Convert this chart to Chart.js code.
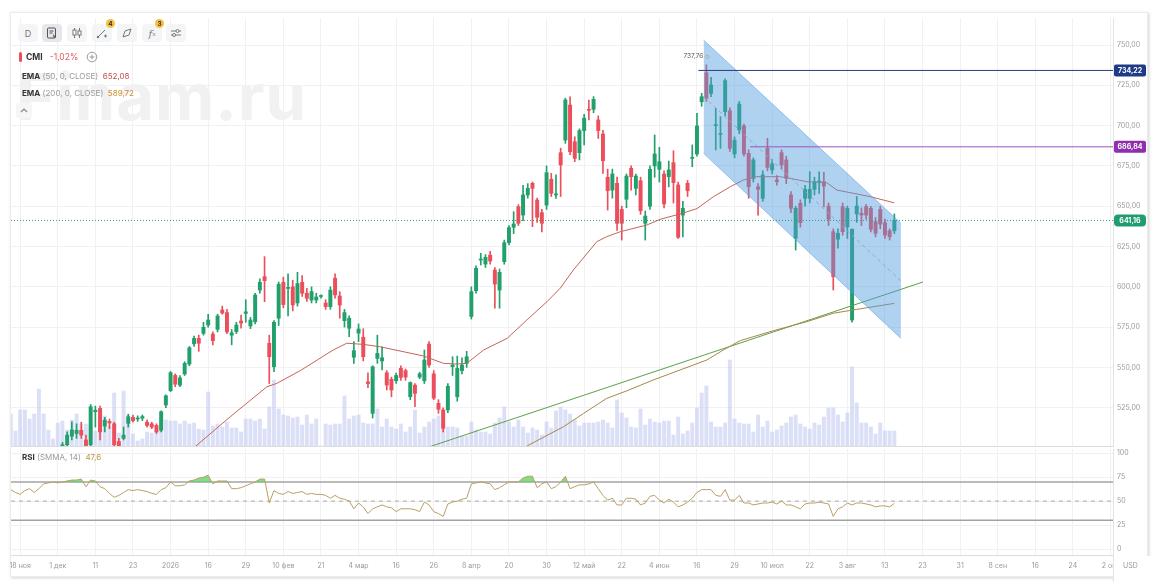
<!DOCTYPE html>
<html lang="ru">
<head>
<meta charset="utf-8">
<title>CMI</title>
<script src="https://cdn.jsdelivr.net/npm/chart.js@4.4.1/dist/chart.umd.min.js"></script>
<style>
  html, body { margin: 0; padding: 0; background: #fff; }
  body { width: 1156px; height: 587px; position: relative; overflow: hidden; font-family: Inter, "Noto Sans", sans-serif; }
  #frame { position: absolute; left: 10px; top: 12px; width: 1138px; height: 565px; border: 1px solid #ececec; box-sizing: border-box; box-shadow: 1px 1px 3px rgba(0,0,0,0.18); }
  #watermark { position: absolute; left: 17px; top: 57px; font: 700 65px Inter, "Noto Sans", sans-serif; color: #f1f1f1; letter-spacing: 1px; }
  #price, #rsi { position: absolute; left: 0; }
  #price { top: 0; }
  #rsi { top: 448px; }
  .btn { position: absolute; top: 24px; width: 20px; height: 18px; border-radius: 4px; background: #f4f5f7; display: flex; align-items: center; justify-content: center; font-size: 9px; color: #777; }
  .badge { position: absolute; width: 9px; height: 9px; border-radius: 50%; background: #f5c242; color: #333; font-size: 6.5px; font-weight: 700; display: flex; align-items: center; justify-content: center; }
  .leg { position: absolute; left: 22px; font-size: 8px; color: #9a9a9a; white-space: nowrap; }
  .leg b { color: #333; font-weight: 700; }
</style>
</head>
<body>
<div id="frame"></div>
<div id="watermark">Finam.ru</div>
<canvas id="price" width="1156" height="448"></canvas>
<canvas id="rsi" width="1156" height="134"></canvas>

<!-- toolbar -->
<div class="btn" style="left:18px">D</div>
<div class="btn" style="left:42px;background:#e6e7ea">
  <svg width="12" height="12" viewBox="0 0 12 12"><rect x="1.5" y="1" width="8" height="10" rx="1" fill="none" stroke="#555"/><path d="M3.5 4h4M3.5 6h3" stroke="#555"/><path d="M7 7l3 3-1.5 0.3L7.7 11.5z" fill="#555"/></svg>
</div>
<div class="btn" style="left:67px">
  <svg width="12" height="12" viewBox="0 0 12 12"><path d="M3.5 1v10M8.5 1v10" stroke="#777"/><rect x="2" y="3" width="3" height="5" fill="#fff" stroke="#777"/><rect x="7" y="4" width="3" height="4" fill="#fff" stroke="#777"/></svg>
</div>
<div class="btn" style="left:92px">
  <svg width="12" height="12" viewBox="0 0 12 12"><path d="M2 10L9 3" stroke="#777"/><circle cx="2" cy="10" r="1.2" fill="#777"/><path d="M8 9h3M9.5 7.5v3" stroke="#777"/></svg>
</div>
<div class="badge" style="left:106px;top:19px">4</div>
<div class="btn" style="left:117px">
  <svg width="12" height="12" viewBox="0 0 12 12"><path d="M2 10L4 4L10 2L8 8Z" fill="none" stroke="#777"/></svg>
</div>
<div class="btn" style="left:142px;font-style:italic;font-family:'DejaVu Serif',serif;font-size:10px">f<sub style="font-size:6px">x</sub></div>
<div class="badge" style="left:155px;top:19px">3</div>
<div class="btn" style="left:166px">
  <svg width="12" height="12" viewBox="0 0 12 12"><path d="M1 4h10M1 8h10" stroke="#777"/><circle cx="7.5" cy="4" r="1.5" fill="#fff" stroke="#777"/><circle cx="4" cy="8" r="1.5" fill="#fff" stroke="#777"/></svg>
</div>

<!-- legend -->
<div style="position:absolute;left:19px;top:52px;width:3px;height:10px;border-radius:2px;background:#ec4f5b"></div>
<div class="leg" style="left:26px;top:52px;font-size:8.5px"><b>CMI</b>&nbsp;&nbsp;&nbsp;<span style="color:#e45a5a">-1,02%</span></div>
<svg style="position:absolute;left:86px;top:51px" width="12" height="12" viewBox="0 0 12 12"><circle cx="6" cy="6" r="4.8" fill="none" stroke="#999"/><path d="M6 3.6v4.8M3.6 6h4.8" stroke="#999"/></svg>
<div class="leg" style="top:71px"><b>EMA</b> (50, 0, CLOSE)&nbsp; <span style="color:#c0504d">652,08</span></div>
<div class="leg" style="top:88px"><b>EMA</b> (200, 0, CLOSE)&nbsp; <span style="color:#d08e2e">589,72</span></div>
<div style="position:absolute;left:16px;top:103px;width:16px;height:15px;border-radius:3px;background:#f6f6f7"></div>
<svg style="position:absolute;left:19px;top:106px" width="10" height="8" viewBox="0 0 10 8"><path d="M2 6L5 3L8 6" fill="none" stroke="#888" stroke-width="1.2"/></svg>
<div class="leg" style="top:452px"><b>RSI</b> (SMMA, 14)&nbsp; <span style="color:#b9993f">47,6</span></div>

<script>
// ---- data (first bar sits two sessions before "18 ноя") ----
var firstBar = -2;
var labelStep = 8;
var dateLabels = ['18 ноя', '1 дек', '11', '23', '2026', '16', '29', '10 фев', '21', '4 мар', '16', '26', '8 апр', '20', '30',
  '12 май', '22', '4 июн', '16', '29', '10 июл', '22', '3 авг', '13', '23', '31', '8 сен', '16', '24', '2 окт'];
var priceTicks = [525, 550, 575, 600, 625, 650, 675, 700, 725, 750];
var rsiTicks = [0, 25, 50, 75, 100];

var opens = [488, 494, 490, 495, 499, 493, 497, 489, 494, 498, 495, 499, 502, 507.4, 509, 511, 505, 502, 522.5, 524.6,
  513.6, 516.5, 515, 504, 506, 515.3, 519, 518, 518.5, 516, 515, 514, 511, 526.7, 535.6, 545, 539, 545.9, 552.1, 564.6,
  568, 571.1, 576.3, 570.7, 573.6, 585.6, 584, 570, 572.2, 578.8, 583.5, 575.7, 578.3, 598, 606.3, 565, 550.4, 580.5, 602.8, 599,
  600, 590, 602.8, 596, 591.8, 591.8, 594, 590, 587.7, 605.3, 594.3, 579, 574.3, 556.3, 571.3, 568.7, 541, 521.5, 555.6, 554,
  546.7, 542.6, 541.7, 549.4, 548, 531.8, 539, 544, 541.7, 564.5, 546, 527.7, 523.6, 523.6, 550.5, 531.8, 548, 552.5, 581.6, 597.6,
  616.6, 614.1, 619.7, 610.4, 598, 615.6, 627.4, 636.9, 649.7, 644.5, 657, 664.2, 653.8, 646, 650.7, 666.7, 657, 683.2, 691, 712.8,
  690, 683.2, 696.9, 710.1, 710.1, 703.5, 694.8, 668, 660, 664.2, 648, 654.3, 673.5, 661.1, 665.8, 639.4, 650, 675, 672.9, 670,
  668.3, 677, 663.2, 644.5, 664.2, 679.7, 682.4, 714.8, 732.8, 720, 700, 694.6, 708.6, 709.2, 682.4, 697.3, 699.8, 682.8, 667.3, 662,
  654.9, 685.9, 672.5, 666.3, 683.2, 678.7, 657, 630.1, 651.8, 654.9, 654.9, 660.5, 665, 665.2, 650.1, 634.2, 629.5, 649.7, 637.1, 579.4,
  645.2, 645.6, 649.7, 648.7, 640.4, 648, 639.8, 634.8, 634.8];
var highs = [497, 497, 499, 501, 501, 500, 499, 498, 500, 500, 501, 503.5, 510, 516.3, 515, 516, 508, 527, 526, 526,
  519, 518, 516, 506, 513, 521, 520.5, 520, 520.5, 517.5, 516, 515, 523, 533, 547.5, 546, 545, 553.5, 563, 569.5,
  570, 578, 583, 572, 583, 588, 586, 573.5, 578, 582.5, 592, 581, 596, 605, 618.7, 570, 579, 603, 606, 608,
  604, 609, 607, 599, 600, 596, 595, 592, 600, 608, 597, 586, 582, 566, 577, 574, 546.7, 551, 570, 562.8,
  548, 544, 546.5, 551, 549, 541, 540, 547, 560.8, 566, 548, 530, 525, 540, 556.6, 557, 556, 560, 600, 613,
  620.8, 620, 622, 612, 611, 629, 638, 646.6, 651, 663, 664, 665, 655, 648, 675, 670.4, 669.4, 686, 717, 717.9,
  693.1, 698, 707, 715.9, 718, 706, 697, 673, 673, 668, 650, 670, 675, 670, 668, 647, 675, 694.2, 686.5, 672,
  678, 684.4, 665, 653, 666, 688, 707.6, 720, 737.76, 730, 710.7, 705.5, 729, 711, 693, 715, 701, 685, 680, 664,
  672, 692.1, 679, 669, 685, 681, 659, 650, 654, 663, 671.4, 668, 671.4, 671, 652, 636, 636, 652, 650, 636,
  656, 649, 651, 650, 643, 650, 642, 636, 645.2];
var lows = [486, 488, 487, 493, 491, 490, 486, 487, 492, 493, 493, 497, 500, 505, 506, 506, 499, 501, 513, 505,
  510, 512, 500, 498, 505, 513, 516, 516.5, 517, 513, 512, 509, 510, 525, 535, 538, 538, 545, 551, 563,
  560, 570, 575, 564, 572, 583, 571, 564, 571, 574.3, 578, 574, 577, 596, 590.8, 540, 547.3, 576, 587, 582,
  585, 588, 594, 591, 590, 590, 593, 586, 586, 593, 580.5, 575, 569, 552.5, 566, 554, 537.5, 518.6, 552.5, 548.4,
  536, 531.8, 540, 542, 542, 530, 525.6, 543, 540, 550, 530, 521.5, 510, 522, 545, 529, 546, 550, 580, 596,
  613.5, 612, 614, 586.7, 586.7, 614, 626, 633, 638, 641, 655, 637.3, 640, 634, 648, 656, 654.9, 656, 689, 682,
  677.6, 678.7, 688, 703.5, 708, 692, 670.4, 647.6, 655, 635, 629, 649, 660, 657, 645, 629, 648, 668, 665, 649,
  662, 652, 630, 631, 656, 674.5, 681, 712, 715, 718, 684.9, 685.9, 706, 684, 680, 695, 681, 654.9, 665, 644.5,
  653, 672, 670, 663, 673, 664, 646, 622.8, 637, 650, 652, 657, 658, 649.5, 638, 598, 624, 632, 630, 578,
  640, 638, 642, 634, 631, 636, 630, 629, 633];
var closes = [494, 490, 496, 499, 493, 497, 489, 495, 498, 495, 499, 502, 508, 511.2, 511, 508, 500, 525.6, 523.5, 510,
  517.3, 515.5, 502, 500, 508, 519.4, 517, 518.2, 519.5, 514, 513, 510, 522.5, 532.4, 546.7, 539.6, 543.5, 552.5, 562.2, 568,
  565, 574.9, 579.4, 566.6, 581.9, 583.7, 572, 571.5, 576.3, 577.5, 584.5, 579.4, 594.9, 602.8, 603.8, 556.6, 578, 601.6, 589, 599.3,
  588.7, 602, 596, 592.9, 597, 593.7, 594.2, 587.7, 598, 595, 588.7, 584, 580.5, 560.4, 573.8, 556.6, 540, 550.4, 558.7, 556,
  539, 536, 545, 543.8, 544, 540.6, 533.9, 546, 554.6, 551.5, 530.9, 524, 512.2, 538.3, 551.5, 549.4, 551.5, 556.6, 597, 611.5,
  616.8, 618.3, 616, 601.7, 609, 627.4, 636.7, 639, 639.4, 657, 661.1, 661.1, 643.1, 639.4, 670.8, 658, 657.3, 675.6, 715.9, 683.8,
  679.7, 696.9, 704.6, 709.5, 716.3, 696.9, 678.2, 659.6, 670, 639.4, 639.4, 668.7, 668.3, 668.7, 647.2, 643.9, 672.9, 682.4, 677.6, 651.4,
  672.5, 664.6, 630.7, 648.7, 659.6, 680, 699.8, 717.9, 716.9, 725.2, 700.3, 695, 727.9, 685.9, 691, 713.4, 682.4, 662.1, 678.7, 660.5,
  669.4, 674.1, 676.2, 665.2, 675.6, 667.3, 648.7, 648.7, 639.8, 660.5, 660.5, 665.2, 665.3, 662.5, 641.9, 606.3, 633.2, 634.2, 648.7, 635.7,
  650.1, 644.5, 644.5, 635.7, 633.2, 638.9, 632.1, 631, 641.16];
var volumes = [32, 15, 36, 36, 27, 32, 57, 32, 16, 7, 23, 25, 16, 26, 32, 22, 22, 21, 15, 25,
  30, 20, 53, 13, 55, 31, 12, 5, 7, 14, 13, 15, 24, 26, 25, 25, 22, 25, 22, 23,
  17, 16, 54, 20, 22, 19, 24, 18, 18, 14, 27, 27, 25, 27, 17, 39, 66, 37, 31, 30,
  28, 29, 21, 31, 22, 27, 0, 22, 21, 22, 22, 50, 27, 30, 31, 23, 22, 22, 37, 19,
  27, 19, 17, 22, 14, 19, 36, 13, 19, 24, 27, 30, 22, 19, 19, 18, 10, 10, 24, 16,
  14, 14, 12, 23, 28, 39, 24, 19, 26, 19, 13, 18, 16, 11, 24, 18, 35, 39, 36, 32,
  26, 20, 23, 23, 23, 24, 26, 23, 18, 46, 33, 28, 19, 18, 37, 21, 27, 24, 23, 25,
  25, 11, 29, 12, 15, 23, 38, 53, 60, 24, 19, 19, 23, 86, 27, 23, 22, 22, 14, 31,
  19, 25, 14, 16, 20, 23, 29, 31, 22, 19, 17, 23, 21, 29, 38, 38, 31, 24, 33, 79,
  43, 23, 23, 19, 12, 23, 15, 15, 15];
var rsi = [62, 59, 57, 61, 63, 59, 63, 68, 69, 70, 69, 70, 71, 72, 72, 73, 65, 72, 71, 65,
  63, 58, 54, 56, 59, 62, 61, 62, 61, 60, 58, 57, 62, 64, 70, 66, 66, 67, 71, 72,
  74, 75, 77, 68, 71, 71, 71, 63, 63, 64, 66, 68, 70, 73, 73, 48, 61, 58, 57, 60,
  58, 59, 60, 57, 58, 57, 57, 56, 53, 56, 53, 52, 50, 42, 48, 44, 37, 42, 44, 46,
  44, 43, 39, 42, 42, 42, 41, 39, 49, 46, 39, 37, 34, 47, 49, 50, 52, 53, 68, 69,
  70, 69, 68, 62, 64, 67, 70, 70, 70, 74, 76, 76, 64, 68, 70, 63, 65, 70, 76, 63,
  65, 67, 67, 68, 70, 63, 56, 51, 53, 46, 46, 53, 53, 52, 46, 48, 55, 56, 51, 48,
  52, 49, 44, 46, 49, 53, 59, 62, 62, 62, 56, 55, 62, 51, 51, 56, 48, 48, 46, 47,
  48, 48, 49, 47, 50, 46, 46, 44, 42, 47, 48, 48, 49, 48, 47, 34, 42, 44, 48, 46,
  48, 48, 47, 46, 44, 45, 45, 44, 47.6];

// EMA lines as (bar position, price) vertices
var ema50X = [37.2, 44.7, 52.5, 54.6, 59.6, 66.6, 69.5, 73.0, 76.6, 85.8, 90.1, 92.9, 95.0, 98.6, 103.6, 107.8, 112.1, 114.9, 117.7,
  122.7, 124.8, 127.7, 133.3, 136.2, 140.4, 144, 147.5, 151.1, 153.9, 156.7, 161.7, 163.8, 167.4, 171.6, 173.8, 177.3, 180.9, 186];
var ema50Y = [500.8, 519.4, 538.0, 540.1, 548.0, 560.8, 565.0, 564.3, 562.8, 557.1, 552.5, 552.1, 552.5, 560.8, 568.0, 579.4, 590.8, 599.1, 610.4,
  628.0, 631.1, 634.2, 638.3, 641.9, 645.2, 648.5, 655.9, 662.1, 666.3, 668.3, 668.3, 667.3, 665.2, 664.6, 660.0, 658.0, 655.9, 652.08];
var ema200X = [107.8, 115.6, 119.9, 124.8, 129.1, 134.7, 140.4, 146.1, 149.6, 153.2, 160.3, 167.4, 173.0, 178.0, 186];
var ema200Y = [501.2, 513.2, 521.5, 530.8, 535.5, 542.2, 548.4, 554.6, 560.8, 566.6, 572.8, 578.4, 583.6, 586.0, 589.72];

// drawings
var trendX = [86, 192.1], trendY = [499.7, 603.0];
var channelX = [145.4, 187.4];
var channelTop = [753.1, 639.4], channelBottom = [682.8, 568.0], channelMid = [718.0, 603.7];
var topLevel = 734.22, topLevelFrom = 144.3;
var midLevel = 686.84, midLevelFrom = 155.3;
var lastClose = 641.16;
var peakBar = 146, peakValue = 737.76;

// ---- layout ----
var xMin = -1.95, xMax = 232.52;
var priceMin = 501.25, priceMax = 766.75;
var rsiMin = -6.26, rsiMax = 104.4;
var volAxisMax = 428;
var upColor = '#21a06c', downColor = '#ec4f5b';

Chart.defaults.font.family = 'Inter, "Noto Sans", sans-serif';
Chart.defaults.color = '#9a9a9a';

function fmt(v) { return v.toFixed(2).replace('.', ','); }
function pts(xa, ya) { return xa.map(function (x, k) { return { x: x, y: ya[k] }; }); }

var xs = closes.map(function (_, k) { return k + firstBar; });
var barColors = closes.map(function (c, k) { return c >= opens[k] ? upColor : downColor; });

function xScaleOpts(showLabels) {
  return {
    type: 'linear', min: xMin, max: xMax, offset: false,
    afterBuildTicks: function (s) { s.ticks = dateLabels.map(function (_, k) { return { value: k * labelStep }; }); },
    afterFit: function (s) {
      s.paddingLeft = 0; s.paddingRight = 0;
      if (showLabels) { s.height = 24; }
    },
    ticks: { display: showLabels, autoSkip: false, maxRotation: 0, padding: 7, font: { size: 7 }, color: '#9a9a9a',
      callback: function (v) { return dateLabels[Math.round(v / labelStep)]; } },
    grid: { color: '#f1f1f3', drawTicks: false, offset: false },
    border: { display: true, color: '#dcdcdc' }
  };
}

function rightAxisFit(s) { s.width = 43; s.paddingTop = 0; s.paddingBottom = 0; }

// price marks: peak label and right-axis value boxes
var priceMarks = {
  id: 'priceMarks',
  afterDraw: function (chart) {
    var ctx = chart.ctx, x = chart.scales.x, y = chart.scales.y;
    ctx.save();
    ctx.font = '6.5px Inter, "Noto Sans", sans-serif';
    ctx.fillStyle = '#555';
    ctx.textAlign = 'right';
    ctx.textBaseline = 'middle';
    ctx.fillText(fmt(peakValue), x.getPixelForValue(peakBar) - 3, y.getPixelForValue(peakValue) - 9);
    ctx.strokeStyle = '#aaa';
    ctx.beginPath();
    ctx.arc(x.getPixelForValue(peakBar) + 1, y.getPixelForValue(peakValue) - 8, 1.6, 0, Math.PI * 2);
    ctx.stroke();

    var boxes = [[topLevel, '#1f3a86', 2], [midLevel, '#8f2fae', 2], [lastClose, '#1f9d6f', 4]];
    ctx.textAlign = 'center';
    ctx.font = 'bold 7px Inter, "Noto Sans", sans-serif';
    boxes.forEach(function (b) {
      var py = y.getPixelForValue(b[0]);
      ctx.fillStyle = b[1];
      ctx.beginPath();
      ctx.roundRect(y.left + 1, py - 6, 32, 12, b[2]);
      ctx.fill();
      ctx.fillStyle = '#fff';
      ctx.fillText(fmt(b[0]), y.left + 17, py + 0.5);
    });
    ctx.restore();
  }
};

new Chart(document.getElementById('price'), {
  type: 'bar',
  data: {
    datasets: [
      { type: 'line', data: pts([topLevelFrom, xMax], [topLevel, topLevel]), borderColor: '#2b3f7d', borderWidth: 1, pointRadius: 0, order: 0 },
      { type: 'line', data: pts([midLevelFrom, xMax], [midLevel, midLevel]), borderColor: '#a052bd', borderWidth: 1, pointRadius: 0, order: 0 },
      { type: 'line', data: pts([xMin, xMax], [lastClose, lastClose]), borderColor: '#2aa37a', borderWidth: 1, borderDash: [1, 2], pointRadius: 0, order: 0 },
      { type: 'line', data: pts(channelX, channelTop), borderColor: 'rgba(80,155,225,0.5)', borderWidth: 1, pointRadius: 0, fill: false, order: 1 },
      { type: 'line', data: pts(channelX, channelBottom), borderColor: 'rgba(80,155,225,0.5)', borderWidth: 1, pointRadius: 0,
        fill: '-1', backgroundColor: 'rgba(80,155,225,0.45)', order: 1 },
      { type: 'line', data: pts(channelX, channelMid), borderColor: '#93a9c4', borderWidth: 1, borderDash: [4, 3], pointRadius: 0, order: 0 },
      { type: 'line', data: pts(ema50X, ema50Y), borderColor: '#c46458', borderWidth: 1, pointRadius: 0, order: 3 },
      { type: 'line', data: pts(ema200X, ema200Y), borderColor: '#a8864a', borderWidth: 1, pointRadius: 0, order: 3 },
      { type: 'line', data: pts(trendX, trendY), borderColor: '#5e9e4c', borderWidth: 1, pointRadius: 0, order: 3 },
      { data: xs.map(function (x, k) { return { x: x, y: [lows[k], highs[k]] }; }), backgroundColor: barColors,
        barThickness: 1, grouped: false, order: 5 },
      { data: xs.map(function (x, k) { return { x: x, y: [opens[k], closes[k]] }; }), backgroundColor: barColors,
        barThickness: 3.3, minBarLength: 1, grouped: false, order: 4 },
      { data: xs.map(function (x, k) { return { x: x, y: volumes[k] }; }), yAxisID: 'yVol',
        backgroundColor: 'rgba(190,198,240,0.55)', barThickness: 3.3, grouped: false, order: 10 }
    ]
  },
  options: {
    responsive: false,
    animation: false,
    layout: { padding: { left: 11, top: 18, right: 0, bottom: 2 } },
    plugins: { legend: { display: false }, tooltip: { enabled: false } },
    scales: {
      x: xScaleOpts(false),
      y: {
        position: 'right', min: priceMin, max: priceMax,
        afterBuildTicks: function (s) { s.ticks = priceTicks.map(function (v) { return { value: v }; }); },
        afterFit: rightAxisFit,
        ticks: { padding: 4, font: { size: 7 }, color: '#9a9a9a', callback: function (v) { return fmt(v); } },
        grid: { color: '#f1f1f3', drawTicks: false },
        border: { color: '#e3e3e3' }
      },
      yVol: { display: false, min: 0, max: volAxisMax }
    }
  },
  plugins: [priceMarks]
});

// date row: hide the label that runs under the price axis and add the currency
var dateRow = {
  id: 'dateRow',
  afterDraw: function (chart) {
    var ctx = chart.ctx, a = chart.chartArea;
    ctx.save();
    ctx.fillStyle = '#fff';
    ctx.fillRect(a.right + 1, a.bottom + 1, chart.width - a.right, chart.height - a.bottom);
    ctx.strokeStyle = '#e3e3e3';
    ctx.beginPath();
    ctx.moveTo(a.right + 0.5, a.bottom);
    ctx.lineTo(a.right + 0.5, chart.height);
    ctx.stroke();
    ctx.fillStyle = '#9a9a9a';
    ctx.font = '7px Inter, "Noto Sans", sans-serif';
    ctx.textAlign = 'left';
    ctx.textBaseline = 'middle';
    ctx.fillText('USD', a.right + 10, a.bottom + 11);
    ctx.restore();
  }
};

new Chart(document.getElementById('rsi'), {
  type: 'line',
  data: {
    datasets: [
      { data: xs.map(function (x, k) { return { x: x, y: rsi[k] }; }), borderColor: '#b8a064', borderWidth: 1, pointRadius: 0,
        fill: { target: { value: 70 }, above: 'rgba(95,210,95,0.75)', below: 'rgba(0,0,0,0)' }, order: 0 },
      { data: pts([xMin, xMax], [70, 70]), borderColor: '#a3a3a3', borderWidth: 1.5, pointRadius: 0, order: 1 },
      { data: pts([xMin, xMax], [30, 30]), borderColor: '#a3a3a3', borderWidth: 1.5, pointRadius: 0, order: 1 },
      { data: pts([xMin, xMax], [50, 50]), borderColor: '#a8a8a8', borderWidth: 1, borderDash: [4, 4], pointRadius: 0, order: 1 }
    ]
  },
  options: {
    responsive: false,
    animation: false,
    layout: { padding: { left: 11, top: 1, right: 0, bottom: 3 } },
    plugins: { legend: { display: false }, tooltip: { enabled: false } },
    scales: {
      x: xScaleOpts(true),
      y: {
        position: 'right', min: rsiMin, max: rsiMax,
        afterBuildTicks: function (s) { s.ticks = rsiTicks.map(function (v) { return { value: v }; }); },
        afterFit: rightAxisFit,
        ticks: { padding: 4, font: { size: 7 }, color: '#9a9a9a' },
        grid: { color: '#f1f1f3', drawTicks: false },
        border: { color: '#e3e3e3' }
      }
    }
  },
  plugins: [dateRow]
});
</script>
</body>
</html>
